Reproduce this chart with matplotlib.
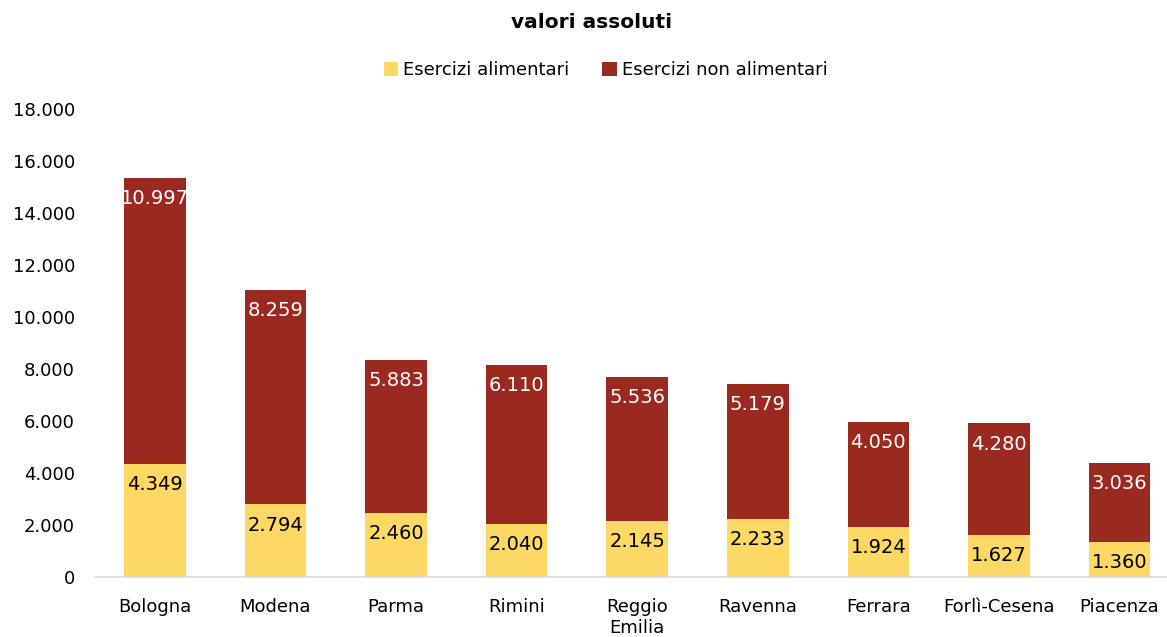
import numpy as np
import matplotlib.pyplot as plt

plt.rcParams['font.family'] = ['DejaVu Sans']

# dati
province = ['Bologna', 'Modena', 'Parma', 'Rimini', 'Reggio\nEmilia', 'Ravenna',
            'Ferrara', 'Forlì-Cesena', 'Piacenza']
alimentari = [4349, 2794, 2460, 2040, 2145, 2233, 1924, 1627, 1360]
non_alimentari = [10997, 8259, 5883, 6110, 5536, 5179, 4050, 4280, 3036]

col_alim = '#FDD865'
col_non = '#9A291F'

def fmt(v):
    return f'{v:,}'.replace(',', '.')

fig = plt.figure(figsize=(11.67, 6.37), dpi=100)
ax = fig.add_axes([0.081, 0.094, 0.93, 0.735])

x = np.arange(len(province))
w = 0.51
b1 = ax.bar(x, alimentari, w, color=col_alim, label='Esercizi alimentari')
b2 = ax.bar(x, non_alimentari, w, bottom=alimentari, color=col_non,
            label='Esercizi non alimentari')

for i in range(len(province)):
    ax.annotate(fmt(alimentari[i]), xy=(x[i], alimentari[i]), xytext=(0, -8),
                textcoords='offset points', ha='center', va='top',
                fontsize=14, color='black')
    top = alimentari[i] + non_alimentari[i]
    ax.annotate(fmt(non_alimentari[i]), xy=(x[i], top), xytext=(0, -8),
                textcoords='offset points', ha='center', va='top',
                fontsize=14, color='white')

ax.set_xlim(-0.5, len(province) - 0.5)
ax.set_ylim(0, 18000)
ax.set_yticks(np.arange(0, 18001, 2000))
ax.set_yticklabels([fmt(v) for v in range(0, 18001, 2000)], fontsize=13)
ax.set_xticks(x)
ax.set_xticklabels(province, fontsize=13, linespacing=1.25)
ax.tick_params(axis='x', length=0, pad=15)
ax.tick_params(axis='y', length=0, pad=14)

for s in ['top', 'right', 'left']:
    ax.spines[s].set_visible(False)
ax.spines['bottom'].set_color('#D9D9D9')
ax.spines['bottom'].set_linewidth(1.2)

fig.text(0.507, 0.965, 'valori assoluti', ha='center', va='center',
         fontsize=14.5, fontweight='bold')
fig.legend(handles=[b1, b2], loc='center', bbox_to_anchor=(0.519, 0.89), ncol=2,
           frameon=False, fontsize=13, handlelength=0.8, handleheight=0.8,
           handletextpad=0.3, columnspacing=1.8)

plt.savefig('out.png', dpi=100)
